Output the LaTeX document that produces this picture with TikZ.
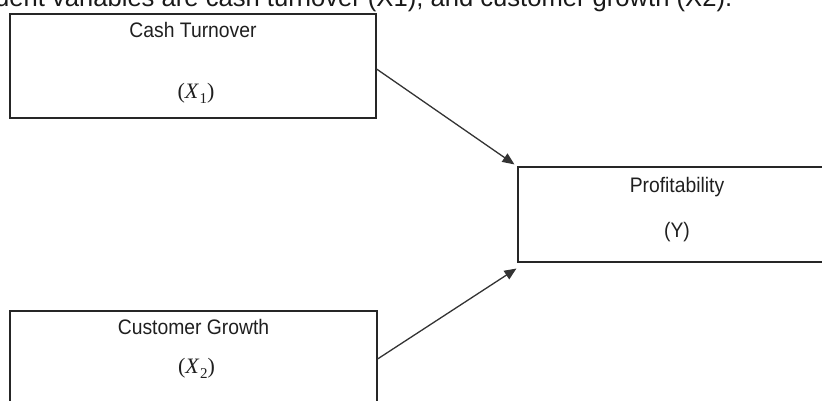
\documentclass[tikz,border=0pt]{standalone}
\usepackage{graphicx}
\usepackage{fontspec}
\setmainfont{Liberation Sans}
\newfontfamily\mathlike{Liberation Serif}
\usetikzlibrary{arrows.meta}
\newcommand{\varlbl}[1]{{\fontsize{22}{24}\selectfont\mathlike (\textit{X}\kern0.5pt\raisebox{-0.22em}{\fontsize{15}{16}\selectfont #1})}}
\newcommand{\narrow}[1]{\scalebox{0.92}[1]{#1}}
\begin{document}
\begin{tikzpicture}[x=1pt,y=-1pt,
  box/.style={draw=black!85, line width=1.1pt, inner sep=0pt, fill=none},
  lbl/.style={inner sep=0pt, text=black!88, font=\fontsize{21}{23}\selectfont},
  conn/.style={draw=black!80, line width=1.3pt, -{Triangle[length=12pt,width=10pt]}}]
\useasboundingbox (0,0) rectangle (822,401);
\node[inner sep=0pt, text=black!90, font=\fontsize{25.6}{28}\selectfont, anchor=base west] (cap) at (-5,7) {dent variables are cash turnover (X1), and customer growth (X2).};
\node[box, minimum width=366pt, minimum height=104pt] (b1) at (193,66) {};
\node[box, minimum width=367pt, minimum height=96pt] (b2) at (193.5,359) {};
\node[box, minimum width=318pt, minimum height=95pt] (p) at (677,214.5) {};
\node[lbl] (t1) at (193,29.5) {\narrow{Cash Turnover}};
\node[lbl] (x1) at (196,93) {\varlbl{1}};
\node[lbl] (t2) at (193.5,327) {\narrow{Customer Growth}};
\node[lbl] (x2) at (196.5,368) {\varlbl{2}};
\node[lbl] (tp) at (677,187) {\narrow{Profitability}};
\node[lbl] (yp) at (677,232) {\narrow{(Y)}};
\draw[conn] ([yshift=-3pt]b1.east) -- ([shift={(-3,-2)}]p.north west);
\draw[conn] (b2.east) -- ([shift={(-1,6)}]p.south west);
\end{tikzpicture}
\end{document}
